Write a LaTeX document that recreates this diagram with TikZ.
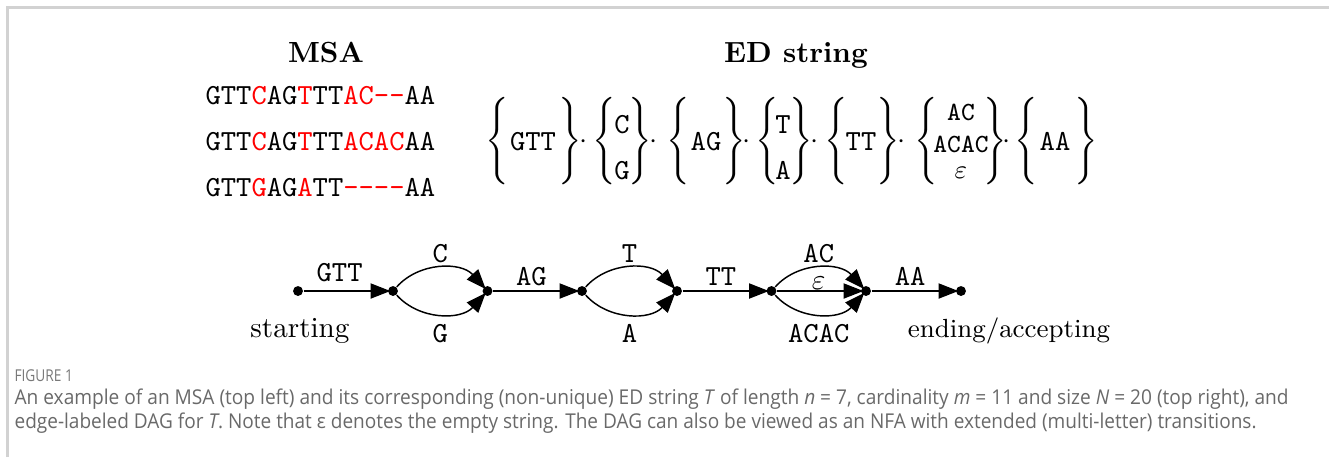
\documentclass[tikz,border=0pt]{standalone}
\usepackage{fontspec}
\usepackage{amsmath}
\newfontfamily\capfont{Open Sans}
\usetikzlibrary{arrows.meta}
\definecolor{capgray}{RGB}{105,105,105}
\definecolor{figgray}{RGB}{120,120,120}
\definecolor{framegray}{RGB}{210,210,210}
\newcommand{\hy}{\mbox{-}}
\newcommand{\rd}[1]{\textcolor{red}{#1}}
\begin{document}
\begin{tikzpicture}[x=0.343pt,y=-0.343pt,
  dot/.style={circle,fill=black,inner sep=0pt,minimum size=3.4pt},
  arr/.style={-{Triangle[length=6.8pt,width=5.2pt]},line width=0.5pt,shorten >=-1pt},
  labup/.style={above,inner sep=1.6pt,font=\ttfamily},
  labdown/.style={below,inner sep=3.3pt,font=\ttfamily},
  labmid/.style={above,inner sep=1.6pt,font=\ttfamily},
  txt/.style={anchor=base,inner sep=0pt},
  frame/.style={draw=framegray,line width=0.7pt}]
\useasboundingbox (0,0) rectangle (1329,457);
% frame
\draw[frame] (7.5,457) -- (7.5,7.5) -- (1329,7.5);
% titles
\node[txt] (msat) at (326,62) {\bfseries MSA};
\node[txt] (edt) at (796,62) {\bfseries ED string};
% MSA rows
\node[anchor=base west,inner sep=0pt] (r1) at (205,104) {\texttt{GTT\rd{C}AG\rd{T}TT\rd{AC\hy\hy}AA}};
\node[anchor=base west,inner sep=0pt] (r2) at (205,150) {\texttt{GTT\rd{C}AG\rd{T}TT\rd{ACAC}AA}};
\node[anchor=base west,inner sep=0pt] (r3) at (205,196) {\texttt{GTT\rd{G}AG\rd{A}TT\rd{\hy\hy\hy\hy}AA}};
% ED string
\node[txt] (l1) at (497,148) {$\Bigg\{$};
\node[txt] (s1) at (533,150) {\texttt{GTT}};
\node[txt] (r1b) at (570,148) {$\Bigg\}$};
\node[txt] (d1) at (584,148) {$\cdot$};
\node[txt] (l2) at (604,148) {$\Bigg\{$};
\node[txt] (s2a) at (622,133) {\texttt{C}};
\node[txt] (s2b) at (622,179) {\texttt{G}};
\node[txt] (r2b) at (640,148) {$\Bigg\}$};
\node[txt] (d2) at (654,148) {$\cdot$};
\node[txt] (l3) at (678,148) {$\Bigg\{$};
\node[txt] (s3) at (706,150) {\texttt{AG}};
\node[txt] (r3b) at (734,148) {$\Bigg\}$};
\node[txt] (d3) at (747,148) {$\cdot$};
\node[txt] (l4) at (767,148) {$\Bigg\{$};
\node[txt] (s4a) at (783,133) {\texttt{T}};
\node[txt] (s4b) at (783,179) {\texttt{A}};
\node[txt] (r4b) at (801,148) {$\Bigg\}$};
\node[txt] (d4) at (815,148) {$\cdot$};
\node[txt] (l5) at (836,148) {$\Bigg\{$};
\node[txt] (s5) at (861,150) {\texttt{TT}};
\node[txt] (r5b) at (888,148) {$\Bigg\}$};
\node[txt] (d5) at (902,148) {$\cdot$};
\node[txt] (l6) at (926,148) {$\Bigg\{$};
\node[txt] (s6a) at (961,120) {\fontsize{9pt}{11pt}\selectfont\texttt{AC}};
\node[txt] (s6b) at (961,152) {\fontsize{9pt}{11pt}\selectfont\texttt{ACAC}};
\node[txt] (s6c) at (961,178) {\fontsize{9pt}{11pt}\selectfont$\varepsilon$};
\node[txt] (r6b) at (995,148) {$\Bigg\}$};
\node[txt] (d6) at (1007,148) {$\cdot$};
\node[txt] (l7) at (1026,148) {$\Bigg\{$};
\node[txt] (s7) at (1055,150) {\texttt{AA}};
\node[txt] (r7b) at (1086,148) {$\Bigg\}$};
% DAG
\node[dot] (n0) at (298,291) {};
\node[dot] (n1) at (393,291) {};
\node[dot] (n2) at (487.5,291) {};
\node[dot] (n3) at (582,291) {};
\node[dot] (n4) at (677,291) {};
\node[dot] (n5) at (771.5,291) {};
\node[dot] (n6) at (866,291) {};
\node[dot] (n7) at (961,291) {};
\draw[arr] (n0) -- node[labmid,pos=0.43,inner sep=2.8pt] {GTT} (n1);
\draw[arr] (n1) to[bend left=48] node[labup] {C} (n2);
\draw[arr] (n1) to[bend right=48] node[labdown] {G} (n2);
\draw[arr] (n2) -- node[labmid,pos=0.46] {AG} (n3);
\draw[arr] (n3) to[bend left=48] node[labup] {T} (n4);
\draw[arr] (n3) to[bend right=48] node[labdown] {A} (n4);
\draw[arr] (n4) -- node[labmid,pos=0.46] {TT} (n5);
\draw[arr] (n5) to[bend left=48] node[labup] {AC} (n6);
\draw[arr] (n5) -- node[above,inner sep=0.3pt] {$\varepsilon$} (n6);
\draw[arr] (n5) to[bend right=48] node[labdown] {ACAC} (n6);
\draw[arr] (n6) -- node[labmid,pos=0.46] {AA} (n7);
\node[txt] (st) at (300,337) {starting};
\node[txt] (en) at (1009,337) {\fontsize{9pt}{11pt}\selectfont ending/accepting};
% caption
\node[anchor=base west,inner sep=0pt,text=figgray] (fig) at (14,381) {\resizebox{20pt}{\height}{\capfont\fontsize{5.6pt}{6pt}\selectfont FIGURE 1}};
\node[anchor=base west,inner sep=0pt,text=capgray] (c1) at (14,404) {\resizebox{437pt}{\height}{\capfont\fontsize{7pt}{8pt}\selectfont An example of an MSA (top left) and its corresponding (non-unique) ED string \textit{T} of length \textit{n} = 7, cardinality \textit{m} = 11 and size \textit{N} = 20 (top right), and}};
\node[anchor=base west,inner sep=0pt,text=capgray] (c2) at (14,428) {\resizebox{426pt}{\height}{\capfont\fontsize{7pt}{8pt}\selectfont edge-labeled DAG for \textit{T}. Note that ε denotes the empty string. The DAG can also be viewed as an NFA with extended (multi-letter) transitions.}};
\end{tikzpicture}
\end{document}
